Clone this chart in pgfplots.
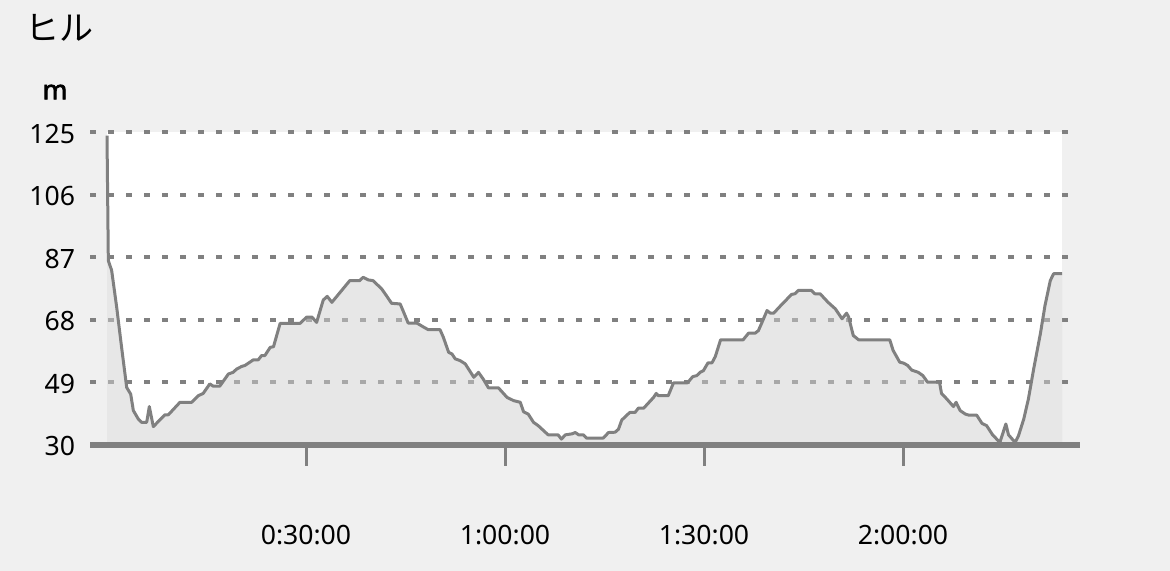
\documentclass[border=0pt]{standalone}
\usepackage{fontspec}
\setmainfont{Noto Sans}
\newfontfamily\mbold{Noto Sans}[FakeBold=2.5]
\newfontfamily\cjk{Noto Sans CJK JP}
\usepackage{pgfplots}
\pgfplotsset{compat=1.18}
\definecolor{bgc}{HTML}{F0F0F0}
\definecolor{linec}{HTML}{808080}
\definecolor{fillc}{HTML}{D0D0D0}
\pgfplotstableread{
t e
0 124
0.2 86
0.7 83
1.46 71.8
2.2 59.6
2.97 47.4
3.57 45.4
3.97 40.4
4.72 37.8
5.23 36.8
5.98 36.8
6.38 41.6
6.98 35.5
8.74 39.1
9.25 39.1
11.0 42.9
12.77 42.9
13.77 44.9
14.5 45.6
15.5 48.5
16.0 47.8
17.0 47.8
18.3 51.5
19.0 52.0
19.55 53.0
20.3 53.8
20.8 54.1
22.05 55.8
22.8 55.8
23.3 57.1
23.8 57.1
24.6 59.6
25.1 59.8
26.1 66.9
29.1 66.9
30.1 68.8
30.9 68.8
31.6 67.2
32.6 74.0
33.2 75.1
33.9 73.3
36.6 79.9
38.1 79.9
38.6 80.9
39.4 80.1
40.1 79.9
41.4 77.4
42.2 75.1
42.9 73.0
44.2 72.8
45.4 67.0
46.7 67.0
47.7 65.8
48.4 65.0
50.2 65.0
50.7 62.7
51.5 58.1
52.0 57.6
52.5 56.1
53.2 55.6
54.0 54.6
54.6 52.7
55.3 50.5
56.0 52.0
56.7 50.0
57.5 47.3
59.0 47.3
60.3 44.4
61.3 43.4
62.3 42.9
62.8 40.0
63.5 39.3
64.3 36.8
65.0 35.8
66.5 33.0
68.0 33.0
68.5 31.7
69.1 33.0
70.1 33.3
70.6 33.7
71.1 33.0
71.8 33.0
72.3 32.0
74.8 32.0
75.6 33.7
76.6 33.8
77.1 34.7
77.6 37.5
78.8 39.8
79.6 39.8
80.1 41.1
80.9 41.1
82.4 44.4
82.8 45.6
83.1 44.9
84.6 44.9
85.4 48.8
87.5 48.8
88.3 50.7
88.9 51.0
89.4 52.0
89.9 52.5
90.6 54.9
91.2 54.9
91.7 56.8
92.5 61.9
95.9 61.9
96.7 63.9
97.7 63.9
98.2 64.7
98.7 67.0
99.5 70.8
100.0 70.0
100.5 70.0
101.7 72.6
103.2 75.7
103.7 75.9
104.2 76.9
106.2 76.9
106.7 75.9
107.5 75.9
108.7 73.3
109.8 71.3
110.8 68.3
111.5 70.0
111.8 68.8
112.5 63.2
113.3 61.9
118.0 61.9
118.5 58.7
119.5 55.1
120.1 54.8
120.7 54.1
121.3 52.7
122.3 52.0
123.0 51.0
123.7 49.0
125.5 49.0
125.8 45.6
126.6 43.9
127.6 41.6
128.0 42.9
128.6 40.4
129.4 39.3
129.9 39.0
131.1 39.0
131.9 36.5
132.6 35.8
133.5 33.0
134.6 30.7
135.5 36.3
135.9 33.0
136.9 30.7
137.4 32.7
138.2 37.8
138.9 43.9
139.7 53.1
140.7 63.7
141.4 72.3
142.2 79.9
142.7 82.0
144.0 82.0
}\elev
\begin{document}
\begin{tikzpicture}
\fill[bgc] (-45pt,-63.15pt) rectangle (540pt,222.35pt);
\begin{axis}[
  at={(0pt,0pt)}, anchor=south west,
  scale only axis, width=495pt, height=156.2pt,
  xmin=-2.563, xmax=146.68, ymin=30, ymax=125,
  axis line style={draw=none},
  tick align=outside, major tick length=10.5pt,
  xtick={30,60,90,120},
  xticklabels={0:30:00,1:00:00,1:30:00,2:00:00},
  xtick pos=bottom, ytick pos=left,
  xtick style={linec, line width=1.5pt},
  ytick={30,49,68,87,106,125},
  ytick style={draw=none},
  yticklabel style={anchor=east, inner sep=0pt, xshift=3.25pt, yshift=-0.75pt},
  xticklabel style={anchor=base, inner sep=0pt, yshift=-39.15pt},
  tick label style={font=\fontsize{13.3pt}{16pt}\selectfont, text=black},
  /pgf/number format/assume math mode=true,
  clip=false,
]
\fill[white] (axis cs:0,30) rectangle (axis cs:144,125);
\foreach \v in {49,68,87,106,125}{
  \edef\tmp{\noexpand\draw[linec, line width=2pt, dash pattern=on 3pt off 6pt] (axis cs:-2.563,\v) -- (axis cs:144.87,\v);}
  \tmp
}
\addplot[draw=none, fill=fillc, fill opacity=0.5] table[x=t,y=e] {\elev} \closedcycle;
\addplot[linec, line width=1.5pt, line join=round] table[x=t,y=e] {\elev};
\draw[linec, line width=3pt] (axis cs:-2.563,30) -- (axis cs:146.68,30);
\end{axis}
\node[anchor=west, inner sep=0pt, font=\cjk\fontsize{17pt}{20pt}\selectfont] at (-32.5pt,208.35pt) {ヒル};
\node[inner sep=0pt, font=\mbold\fontsize{13.3pt}{16pt}\selectfont] at (-17.5pt,176.35pt) {m};
\pgfresetboundingbox
\path (-45pt,-63.15pt) rectangle (540pt,222.35pt);
\end{tikzpicture}
\end{document}
